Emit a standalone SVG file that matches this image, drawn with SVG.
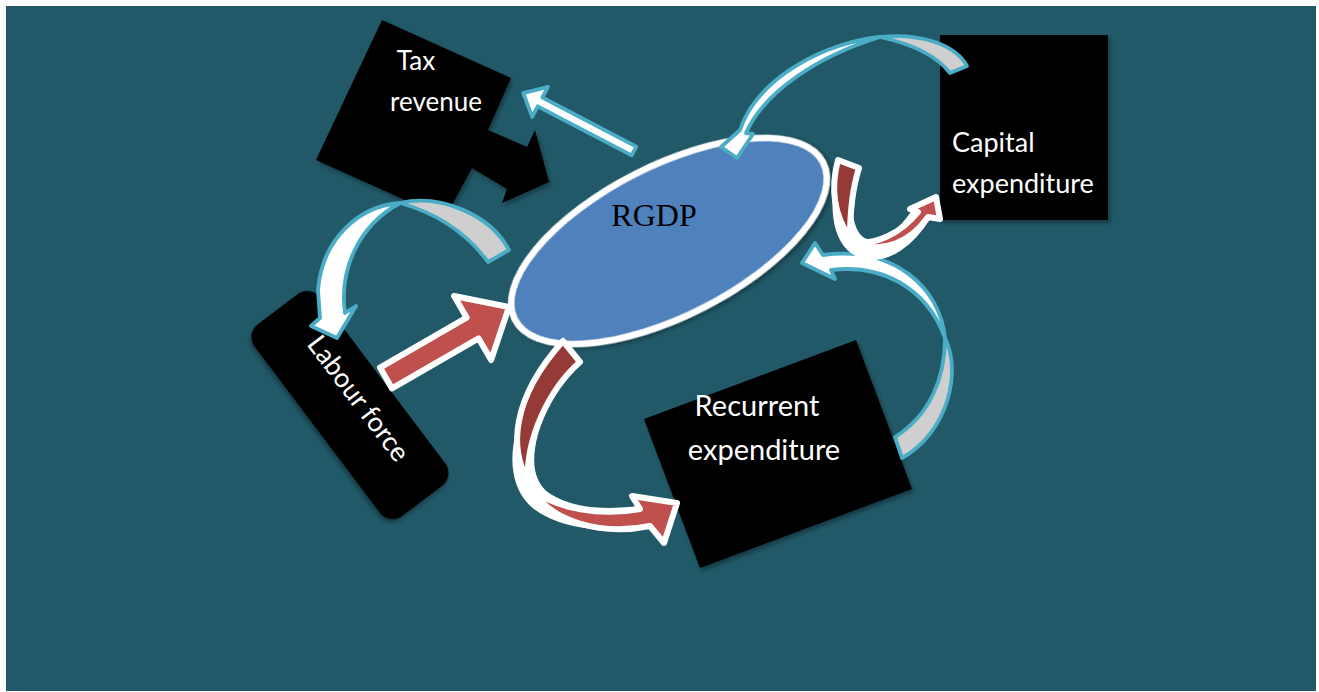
<svg xmlns="http://www.w3.org/2000/svg" width="1319" height="692" viewBox="0 0 1319 692">
  <defs>
    <style>
      .box { fill: #000; filter: url(#shadow); }
      .lbl { font-family: Lato, "Open Sans", "Liberation Sans", sans-serif; fill: #fff; }
      .cyan { stroke: #4BACC6; stroke-width: 3.8; stroke-linejoin: round; }
      .red { stroke: #fff; stroke-width: 6; stroke-linejoin: round; }
      .band { fill: none; stroke: #fff; stroke-linecap: butt; }
      .white { fill: #fff; }
      .grey { fill: #CFCFCF; }
      .lightred { fill: #C0504D; }
      .darkred { fill: #963A38; }
    </style>
    <filter id="shadow" x="-10%" y="-10%" width="130%" height="130%">
      <feDropShadow dx="2" dy="3" stdDeviation="2" flood-color="#000" flood-opacity="0.35"/>
    </filter>
  </defs>

  <!-- backdrop -->
  <rect x="6" y="6" width="1310" height="685" fill="#215968"/>

  <!-- Tax revenue: tilted block with an arrow-callout stub -->
  <g id="tax-revenue">
    <polygon class="box" points="382,20 511,78 488,130 527,147 535,130 549,182 502,203 507,189 472,168 445,218 316,160"/>
    <text class="lbl" x="416" y="70" font-size="26" text-anchor="middle">Tax</text>
    <text class="lbl" x="436" y="111" font-size="26" text-anchor="middle">revenue</text>
  </g>

  <!-- Labour force -->
  <g id="labour-force">
    <rect class="box" x="-120" y="-41" width="240" height="82" rx="16" transform="translate(350,405) rotate(53)"/>
    <text class="lbl" font-size="27" text-anchor="middle" transform="translate(351,404) rotate(53)">Labour force</text>
  </g>

  <!-- Capital expenditure -->
  <g id="capital-expenditure">
    <rect class="box" x="940" y="35" width="168" height="185"/>
    <text class="lbl" x="952" y="152" font-size="27">Capital</text>
    <text class="lbl" x="952" y="193" font-size="27">expenditure</text>
  </g>

  <!-- Recurrent expenditure -->
  <g id="recurrent-expenditure">
    <polygon class="box" points="644,419 856,340 912,489 700,568"/>
    <text class="lbl" x="757" y="416" font-size="29" text-anchor="middle">Recurrent</text>
    <text class="lbl" x="764" y="460" font-size="29" text-anchor="middle">expenditure</text>
  </g>

  <!-- RGDP -->
  <g id="rgdp">
    <ellipse cx="669" cy="241" rx="173" ry="75" transform="rotate(-27 669 241)" fill="#4F81BD" stroke="#fff" stroke-width="6.5" filter="url(#shadow)"/>
    <text x="654" y="226" font-family="'Liberation Serif', 'Times New Roman', serif" font-size="32" fill="#000" text-anchor="middle">RGDP</text>
  </g>

  <g id="connectors">
    <!-- RGDP to Tax revenue -->
    <path class="white cyan" transform="translate(634,151) rotate(207.6)" d="M0,-5 L106,-5 L106,-17 L125,0 L106,17 L106,5 L0,5 Z"/>

    <!-- Labour force to RGDP -->
    <path class="lightred red" transform="translate(386,378) rotate(-30)" d="M0,-12 L100,-12 L100,-37 L142,0 L100,37 L100,12 L0,12 Z"/>

    <!-- RGDP loop back onto Labour force -->
    <path class="grey cyan" d="M400,203 C440,194 490,214 509,250 L488,262 C466,232 436,213 400,203 Z"/>
    <path class="white cyan" d="M400,203 C358,206 322,240 318,290 L320,318 L311,326 L337,338 L356,306 L345,313 C339,270 358,226 400,203 Z"/>

    <!-- Capital expenditure loop onto RGDP -->
    <path class="grey cyan" d="M880,37 C920,33 955,44 967,66 L950,73 C936,55 912,44 880,37 Z"/>
    <path class="white cyan" d="M880,37 C828,42 758,76 740,130 L721,147 L737,158 L753,134 L746,133 C764,92 818,56 880,37 Z"/>

    <!-- Recurrent expenditure loop onto RGDP -->
    <path class="grey cyan" d="M945,338 C962,372 948,432 902,458 L895,437 C930,415 945,378 945,338 Z"/>
    <path class="white cyan" d="M945,338 C940,288 895,246 823,255 L815,243 L802,263 L835,279 L831,270 C880,264 926,286 945,338 Z"/>

    <!-- RGDP to Capital expenditure -->
    <path class="band" stroke-width="20" d="M849,162 C838,200 840,238 862,248 C885,256 908,236 922,213"/>
    <path class="darkred red" d="M838,160 L859,168 C852,190 850,215 850,238 C834,215 830,190 838,160 Z"/>
    <path class="lightred red" d="M853,242 C876,246 902,232 918,212 L910,209 L936,197 L940,219 L928,217 C912,240 884,256 853,242 Z"/>

    <!-- RGDP to Recurrent expenditure -->
    <path class="band" stroke-width="22" d="M571,352 C530,400 505,470 540,500 C570,522 615,521 645,516"/>
    <path class="darkred red" d="M563,341 L580,362 C548,390 526,440 528,480 C510,450 510,400 563,341 Z"/>
    <path class="lightred red" d="M531,488 C556,510 602,516 640,509 L632,496 L677,503 L664,543 L650,526 C602,536 550,522 531,488 Z"/>
  </g>
</svg>
